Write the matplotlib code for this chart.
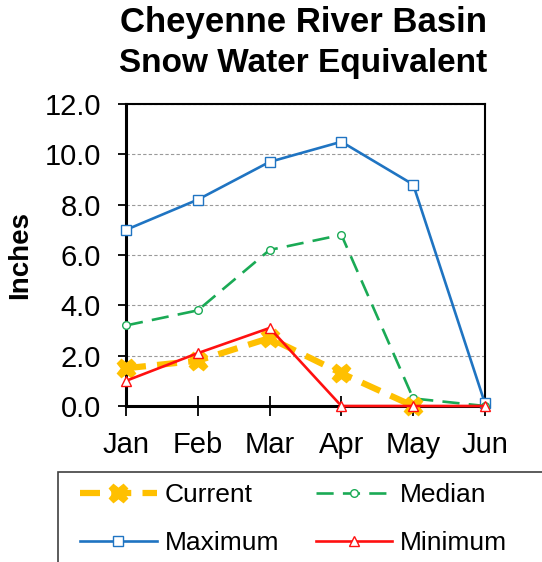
import matplotlib.pyplot as plt
from matplotlib.patches import Rectangle
import numpy as np

plt.rcParams['font.family'] = ['Liberation Sans', 'DejaVu Sans']

months = ['Jan', 'Feb', 'Mar', 'Apr', 'May', 'Jun']
current = [1.5, 1.8, 2.7, 1.3, 0.0]
median = [3.2, 3.8, 6.2, 6.8, 0.3, 0.0]
maximum = [7.0, 8.2, 9.7, 10.5, 8.8, 0.1]
minimum = [1.0, 2.1, 3.1, 0.0, 0.0, 0.0]

x = np.arange(len(months))
W, H = 542, 562

fig = plt.figure(figsize=(W / 100, H / 100), dpi=100)
ax = fig.add_axes([126 / W, 1 - 406 / H, 359 / W, 302 / H])

ax.yaxis.grid(True, color='#9a9a9a', linestyle=(0, (3, 2)), linewidth=0.8)
ax.set_axisbelow(True)

l_max, = ax.plot(x, maximum, color='#1f74c2', lw=1.9, marker='s', ms=6.5,
                 mfc='white', mec='#1f74c2', mew=1.0, label='Maximum', zorder=3,
                 clip_on=False)
l_med, = ax.plot(x, median, color='#1aaa55', lw=1.9, dashes=(6.5, 3.5), marker='o', ms=5.5,
                 mfc='white', mec='#1aaa55', mew=1.0, label='Median', zorder=3,
                 clip_on=False)
l_cur, = ax.plot(x[:len(current)], current, color='#ffc000', lw=4.5, dashes=(3.2, 1.8),
                 marker='X', ms=13, mfc='#ffc000', mec='#ffc000', label='Current', zorder=4,
                 clip_on=False)
l_min, = ax.plot(x, minimum, color='#ff1010', lw=1.9, marker='^', ms=6.5,
                 mfc='white', mec='#ff1010', mew=1.0, label='Minimum', zorder=5,
                 clip_on=False)

ax.set_xlim(0, 5)
ax.set_ylim(0, 12)
ax.set_xticks(x)
ax.set_xticklabels(months)
ax.set_yticks(np.arange(0, 13, 2))
ax.set_yticklabels([f'{v:.1f}' for v in np.arange(0, 13, 2)])
ax.tick_params(axis='both', labelsize=21, width=1.3, color='black')
ax.tick_params(axis='x', direction='inout', length=14, pad=11)
ax.tick_params(axis='y', direction='out', length=6, pad=12)

for side in ['left', 'bottom']:
    ax.spines[side].set_linewidth(2.2)
for side in ['top', 'right']:
    ax.spines[side].set_linewidth(1.5)

ax.set_ylabel('Inches', fontsize=20, fontweight='bold')
ax.yaxis.set_label_coords((33 - 126) / 359, 0.5)

fig.text(303 / W, 1 - 32 / H, 'Cheyenne River Basin', ha='center', va='baseline',
         fontsize=25, fontweight='bold')
fig.text(303 / W, 1 - 72 / H, 'Snow Water Equivalent', ha='center', va='baseline',
         fontsize=24, fontweight='bold')

# legend entries without their own frame; the box runs off the figure edge
leg = fig.legend(handles=[l_cur, l_max, l_med, l_min], ncol=2,
                 loc='upper left', bbox_to_anchor=(80 / W, 1 - 483 / H),
                 borderaxespad=0, borderpad=0, fontsize=19, handlelength=2.9,
                 handletextpad=0.3, labelspacing=0.92, columnspacing=1.4,
                 frameon=False)
fig.patches.append(Rectangle((58 / W, -0.1), 1.0, 0.1 + (H - 472) / H,
                             transform=fig.transFigure, fill=False,
                             edgecolor='#404040', linewidth=1.2))

fig.savefig('out.png', dpi=100)
